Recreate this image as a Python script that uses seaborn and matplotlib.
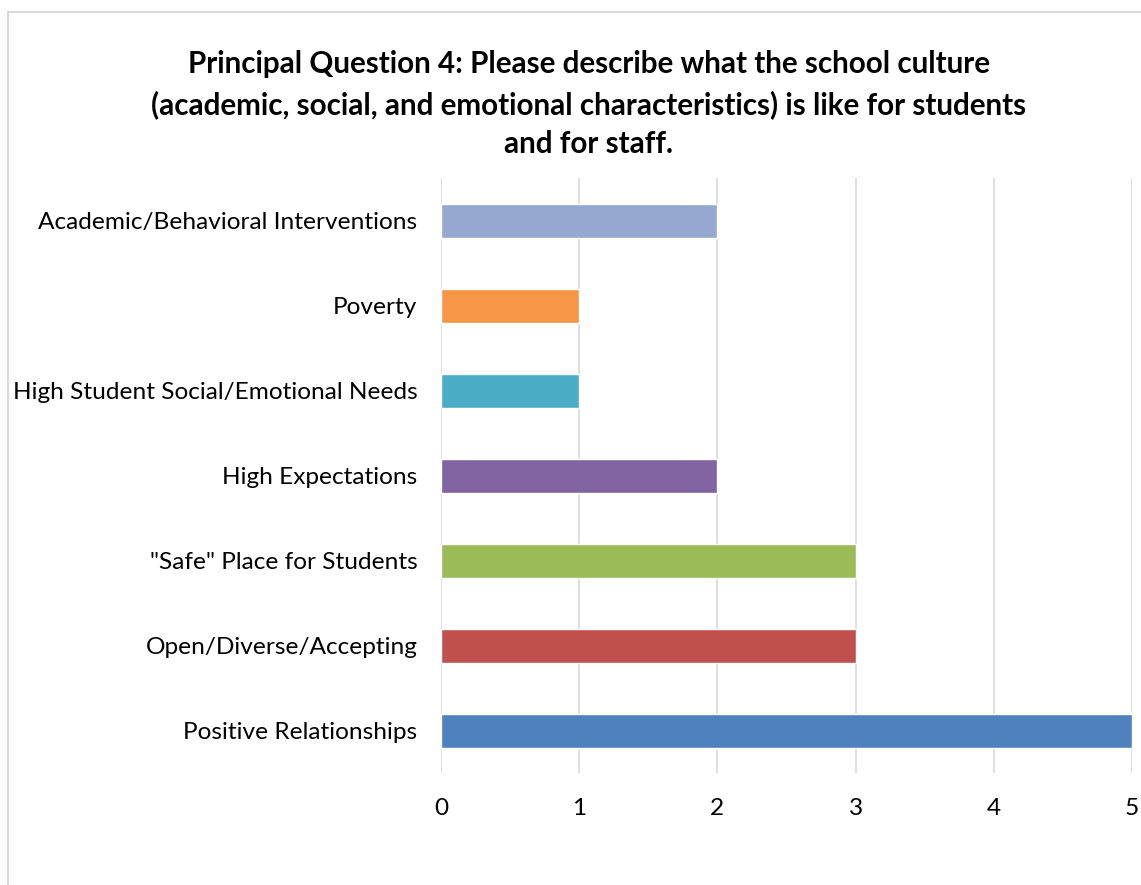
import matplotlib
matplotlib.use("Agg")
import matplotlib.pyplot as plt
import seaborn as sns
import pandas as pd
from matplotlib.patches import Rectangle

categories = [
    "Academic/Behavioral Interventions",
    "Poverty",
    "High Student Social/Emotional Needs",
    "High Expectations",
    "\"Safe\" Place for Students",
    "Open/Diverse/Accepting",
    "Positive Relationships",
]
counts = [2, 1, 1, 2, 3, 3, 5]
colors = ["#95A9D0", "#F79646", "#4BACC6", "#8064A2", "#9BBB59", "#C0504D", "#4F81BD"]
x_ticks = [0, 1, 2, 3, 4, 5]
title = ("Principal Question 4: Please describe what the school culture\n"
         "(academic, social, and emotional characteristics) is like for students\n"
         "and for staff.")

sns.set_theme(style="white")
plt.rcParams["font.family"] = ["Lato", "DejaVu Sans"]

W, H = 1141, 885
fig = plt.figure(figsize=(W / 100, H / 100), dpi=100)
fig.patch.set_facecolor("white")

# chart frame, running off the right and bottom edges
fig.add_artist(Rectangle((8 / W, -0.05), 1.2, 1 - 12 / H + 0.05,
                         transform=fig.transFigure, fill=False,
                         edgecolor="#D9D9D9", linewidth=1.5))

ax = fig.add_axes([441 / W, 1 - 773 / H, (1132 - 441) / W, (773 - 178) / H])
df = pd.DataFrame({"category": categories, "count": counts})
sns.barplot(data=df, x="count", y="category", hue="category", order=categories,
            hue_order=categories, palette=colors, width=0.4, legend=False,
            saturation=1, ax=ax)

ax.set_xlim(0, 5)
ax.set_ylim(6.5, -0.5)
ax.set_xticks(x_ticks)
ax.set_xticklabels([str(t) for t in x_ticks])
ax.grid(axis="x", color="#D9D9D9", linewidth=1.2)
ax.grid(axis="y", visible=False)
ax.set_axisbelow(True)
for s in ax.spines.values():
    s.set_visible(False)
ax.set_xlabel("")
ax.set_ylabel("")
ax.tick_params(axis="both", length=0, labelsize=17.6, colors="#000000")
ax.tick_params(axis="y", pad=17)
ax.tick_params(axis="x", pad=18)

fig.text(589 / W, 1 - 104 / H, title, ha="center", va="center", fontsize=21.3,
         fontweight="bold", linespacing=1.5, color="#000000")

fig.savefig("out.png", dpi=100)
